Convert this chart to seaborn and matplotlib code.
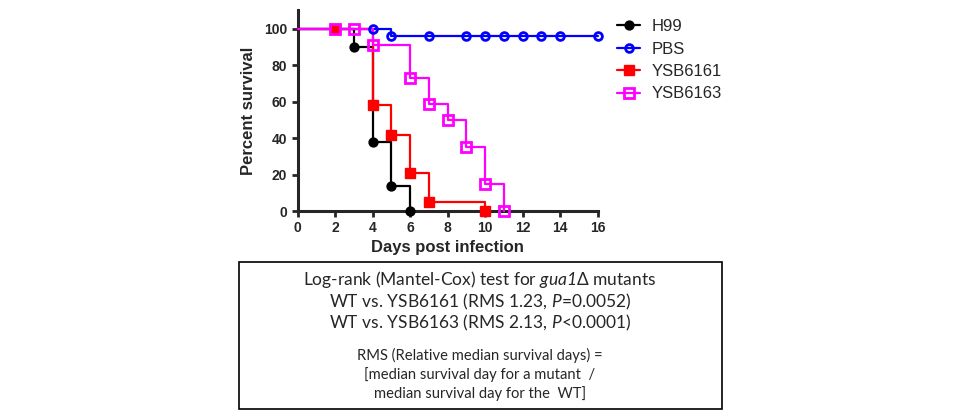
import matplotlib
matplotlib.use("Agg")
import matplotlib.pyplot as plt
import seaborn as sns
from matplotlib.lines import Line2D
from matplotlib.patches import Rectangle

# Survival data (step curves)
series_names = ["H99", "PBS", "YSB6161", "YSB6163"]
series_colors = ["black", "blue", "red", "magenta"]

h99_days = [0, 3, 4, 5, 6]
h99_surv = [100, 90, 38, 14, 0]
h99_mark_days = [3, 4, 5, 6]
h99_mark_surv = [90, 38, 14, 0]

pbs_days = [0, 5, 16]
pbs_surv = [100, 96, 96]
pbs_mark_days = [4, 5, 7, 9, 10, 11, 12, 13, 14, 16]
pbs_mark_surv = [100, 96, 96, 96, 96, 96, 96, 96, 96, 96]

y6161_days = [0, 4, 5, 6, 7, 10]
y6161_surv = [100, 58, 42, 21, 5, 0]
y6161_mark_days = [2, 4, 5, 6, 7, 10]
y6161_mark_surv = [100, 58, 42, 21, 5, 0]

y6163_days = [0, 4, 6, 7, 8, 9, 10, 11]
y6163_surv = [100, 91, 73, 59, 50, 35, 15, 0]
y6163_mark_days = [2, 3, 4, 6, 7, 8, 9, 10, 11]
y6163_mark_surv = [100, 100, 91, 73, 59, 50, 35, 15, 0]

x_ticks = list(range(0, 17, 2))
y_ticks = [0, 20, 40, 60, 80, 100]

box_lines = [
    r"Log-rank (Mantel-Cox) test for $\mathsf{gua1}$Δ mutants",
    r"WT vs. YSB6161 (RMS 1.23, $\mathsf{P}$=0.0052)",
    r"WT vs. YSB6163 (RMS 2.13, $\mathsf{P}$<0.0001)",
]
note_lines = [
    "RMS (Relative median survival days) =",
    "[median survival day for a mutant  /",
    "median survival day for the  WT]",
]

sns.set_style("ticks")
plt.rcParams["font.family"] = ["Liberation Sans", "DejaVu Sans"]
plt.rcParams["mathtext.fontset"] = "custom"
plt.rcParams["mathtext.rm"] = "Lato"
plt.rcParams["mathtext.sf"] = "Lato:italic"

W, H = 960, 415
fig = plt.figure(figsize=(9.6, 4.15), dpi=100)
ax = fig.add_axes([297.7 / W, (H - 211) / H, 300 / W, 201 / H])

# (days, surv, marker days, marker surv, marker, filled, size, edge width)
curves = [
    (h99_days, h99_surv, h99_mark_days, h99_mark_surv, "o", True, 6.4, 1.0),
    (pbs_days, pbs_surv, pbs_mark_days, pbs_mark_surv, "o", False, 5.6, 2.0),
    (y6161_days, y6161_surv, y6161_mark_days, y6161_mark_surv, "s", True, 6.8, 1.0),
    (y6163_days, y6163_surv, y6163_mark_days, y6163_mark_surv, "s", False, 6.8, 2.0),
]

handles = []
for (d, s, md, ms, mk, filled, size, mew), name, col in zip(curves, series_names, series_colors):
    sns.lineplot(x=d, y=s, ax=ax, color=col, lw=1.6, drawstyle="steps-post",
                 estimator=None, clip_on=False, zorder=3)
    ax.plot(md, ms, linestyle="none", marker=mk, ms=size,
            mfc=col if filled else "none", mec=col, mew=mew, clip_on=False, zorder=4)
    handles.append(Line2D([], [], color=col, lw=1.6, marker=mk, ms=size,
                          mfc=col if filled else "none", mec=col, mew=mew))

ax.set_xlim(0, 16)
ax.set_ylim(0, 110.4)
ax.set_xticks(x_ticks)
ax.set_yticks(y_ticks)
for side in ["top", "right"]:
    ax.spines[side].set_visible(False)
for side in ["left", "bottom"]:
    ax.spines[side].set_linewidth(2.2)
ax.tick_params(width=2, length=4.5, labelsize=10, pad=3)
for lab in ax.get_xticklabels() + ax.get_yticklabels():
    lab.set_fontweight("bold")
ax.set_xlabel("Days post infection", fontsize=12, fontweight="bold", labelpad=3)
ax.set_ylabel("Percent survival", fontsize=12, fontweight="bold", labelpad=6)

fig.legend(handles, series_names, loc="upper left",
           bbox_to_anchor=(617 / W, (H - 19) / H), frameon=False,
           fontsize=12, handlelength=1.4, handletextpad=0.65,
           labelspacing=0.45, borderaxespad=0, borderpad=0)

# Text box below the chart
fig.patches.append(Rectangle((239 / W, (H - 409) / H), 483 / W, 147 / H,
                             transform=fig.transFigure, fill=False,
                             edgecolor="black", lw=1.2))
for txt, ypix in zip(box_lines, [279, 302, 323]):
    fig.text(480 / W, (H - ypix) / H, txt, ha="center", va="center",
             fontsize=12.5, family="Lato")
for txt, ypix in zip(note_lines, [355, 375, 394]):
    fig.text(480 / W, (H - ypix) / H, txt, ha="center", va="center",
             fontsize=10.6, family="Lato")

fig.savefig("out.png", dpi=100)
